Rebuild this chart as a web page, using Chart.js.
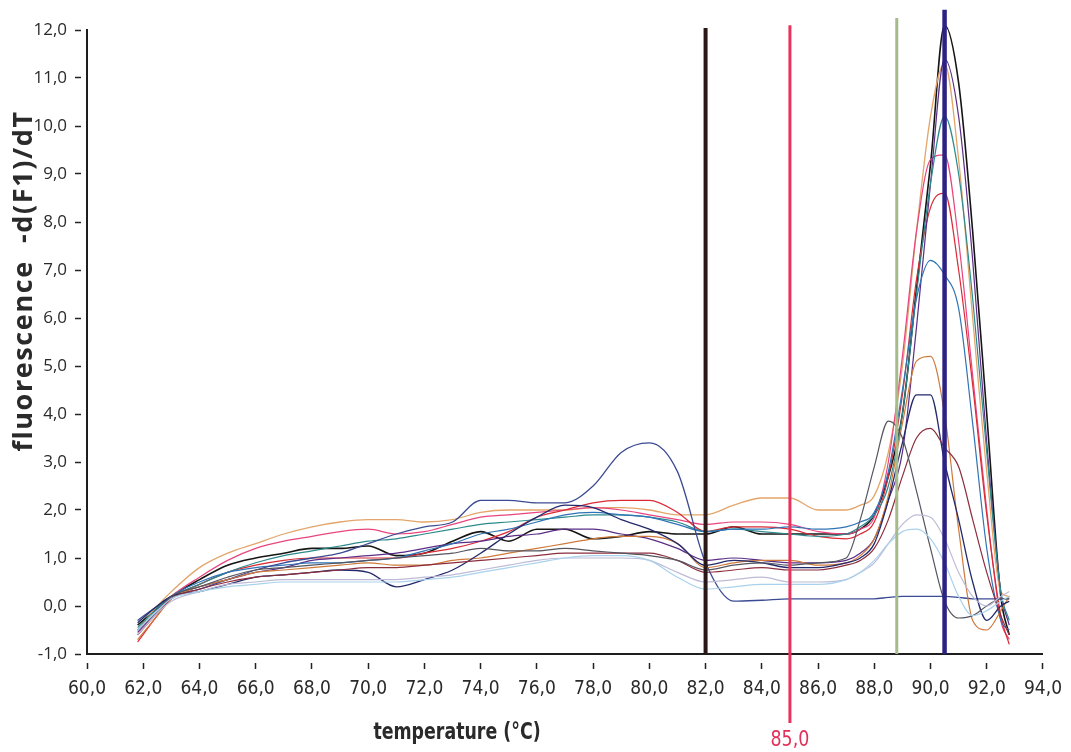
<!DOCTYPE html>
<html>
<head>
<meta charset="utf-8">
<title>Melt curve</title>
<script src="https://cdn.jsdelivr.net/npm/chart.js@4.4.1/dist/chart.umd.min.js"></script>
<style>
  html, body { margin: 0; padding: 0; background: #fff; }
  #wrap { position: relative; width: 1071px; height: 752px; }
</style>
</head>
<body>
<div id="wrap"><canvas id="chart"></canvas></div>
<script>
// temperature grid (°C)
const temps = [61.8, 62.5, 63, 64, 65, 66, 67, 68, 69, 70, 71, 72, 73, 74, 75, 76, 77, 78, 79, 80,
               81, 82, 83, 84, 85, 86, 87, 87.5, 88, 88.5, 89, 89.5, 90, 90.5, 91, 91.5, 92, 92.5, 92.8];

// -d(F1)/dT per sample
const sBlack    = [-0.4, -0.05, 0.2, 0.55, 0.85, 1.0, 1.1, 1.2, 1.2, 1.25, 1.05, 1.1, 1.35, 1.55, 1.35, 1.6, 1.6, 1.4, 1.45, 1.55, 1.5, 1.5, 1.65, 1.5, 1.5, 1.5, 1.5, 1.6, 1.9, 2.7, 4.0, 6.6, 9.2, 12.1, 10.9, 7.8, 4.0, 0.2, -0.6];
const sTan      = [-0.5, 0.0, 0.3, 0.8, 1.1, 1.3, 1.5, 1.65, 1.75, 1.8, 1.8, 1.75, 1.8, 1.95, 2.0, 2.0, 2.0, 2.05, 2.05, 2.0, 1.9, 1.9, 2.1, 2.25, 2.25, 2.0, 2.0, 2.1, 2.3, 3.2, 5.0, 7.8, 10.2, 11.3, 9.3, 6.0, 2.8, 0.3, 0.2];
const sPink     = [-0.6, -0.1, 0.2, 0.6, 0.95, 1.2, 1.35, 1.45, 1.55, 1.6, 1.5, 1.55, 1.7, 1.85, 1.9, 1.95, 2.0, 2.05, 2.0, 1.9, 1.8, 1.7, 1.75, 1.75, 1.7, 1.55, 1.5, 1.6, 1.85, 3.0, 5.2, 7.8, 9.3, 9.4, 7.6, 4.8, 2.0, -0.3, -0.7];
const sRed      = [-0.75, -0.2, 0.15, 0.45, 0.7, 0.85, 0.95, 1.0, 1.0, 1.0, 1.0, 1.1, 1.2, 1.35, 1.55, 1.85, 2.0, 2.15, 2.2, 2.2, 1.95, 1.55, 1.65, 1.65, 1.6, 1.45, 1.4, 1.5, 1.75, 2.7, 4.4, 6.8, 8.3, 8.6, 7.0, 4.6, 1.9, -0.2, -0.8];
const sSteel    = [-0.5, -0.1, 0.2, 0.5, 0.7, 0.8, 0.85, 0.9, 0.9, 0.95, 1.0, 1.15, 1.3, 1.5, 1.6, 1.75, 1.9, 1.95, 1.9, 1.85, 1.7, 1.55, 1.6, 1.6, 1.65, 1.6, 1.65, 1.75, 1.95, 2.8, 4.5, 6.4, 7.2, 6.9, 6.2, 3.8, 1.2, -0.3, -0.5];
const sOrange   = [-0.7, -0.2, 0.15, 0.4, 0.55, 0.7, 0.75, 0.8, 0.85, 0.9, 0.85, 0.85, 0.95, 1.0, 1.1, 1.2, 1.3, 1.4, 1.45, 1.45, 1.3, 0.8, 0.9, 0.95, 0.95, 0.85, 0.9, 1.05, 1.4, 2.3, 3.8, 5.1, 5.2, 4.0, 1.6, -0.3, -0.5, -0.1, 0.2];
const sNavy     = [-0.35, 0.0, 0.2, 0.3, 0.45, 0.6, 0.65, 0.7, 0.75, 0.7, 0.4, 0.55, 0.75, 1.1, 1.5, 1.85, 2.1, 2.05, 1.8, 1.6, 1.3, 0.85, 0.95, 0.9, 0.8, 0.8, 0.9, 1.0, 1.3, 2.2, 3.4, 4.4, 4.4, 3.0, 1.8, 0.5, -0.3, 0.0, 0.1];
const sGray     = [-0.5, -0.1, 0.2, 0.4, 0.6, 0.75, 0.8, 0.85, 0.9, 0.95, 1.0, 1.05, 1.1, 1.2, 1.15, 1.15, 1.2, 1.15, 1.1, 1.05, 0.95, 0.75, 0.85, 0.9, 0.85, 0.9, 1.0, 1.8, 2.9, 3.85, 3.5, 2.4, 1.2, 0.1, -0.25, -0.2, 0.0, 0.15, 0.15];
const sMaroon   = [-0.6, -0.15, 0.15, 0.35, 0.5, 0.6, 0.65, 0.7, 0.75, 0.8, 0.8, 0.85, 0.9, 0.95, 1.0, 1.05, 1.1, 1.1, 1.1, 1.1, 0.95, 0.7, 0.75, 0.8, 0.75, 0.75, 0.85, 0.95, 1.2, 1.8, 2.7, 3.5, 3.7, 3.3, 2.9, 1.8, 0.7, -0.2, -0.6];
const sLavender = [-0.6, -0.15, 0.1, 0.3, 0.45, 0.5, 0.55, 0.55, 0.55, 0.55, 0.55, 0.6, 0.65, 0.75, 0.85, 0.95, 1.0, 1.0, 1.0, 0.95, 0.7, 0.5, 0.55, 0.6, 0.5, 0.5, 0.55, 0.7, 0.9, 1.3, 1.7, 1.9, 1.85, 1.4, 0.7, 0.2, 0.0, 0.2, 0.3];
const sLightBlue= [-0.5, -0.1, 0.15, 0.3, 0.4, 0.45, 0.5, 0.5, 0.5, 0.5, 0.5, 0.55, 0.6, 0.7, 0.8, 0.9, 1.0, 1.05, 1.05, 0.95, 0.6, 0.35, 0.4, 0.45, 0.45, 0.45, 0.55, 0.7, 0.95, 1.3, 1.55, 1.6, 1.4, 0.9, 0.2, -0.2, -0.1, 0.1, 0.2];
const sSlate    = [-0.3, 0.0, 0.2, 0.35, 0.55, 0.75, 0.9, 1.0, 1.1, 1.3, 1.5, 1.65, 1.75, 2.2, 2.2, 2.15, 2.15, 2.5, 3.2, 3.4, 2.8, 0.9, 0.1, 0.12, 0.15, 0.15, 0.15, 0.15, 0.15, 0.18, 0.2, 0.2, 0.2, 0.2, 0.18, 0.15, 0.15, 0.15, 0.15];
const sTeal     = [-0.45, -0.05, 0.2, 0.45, 0.7, 0.9, 1.05, 1.15, 1.25, 1.35, 1.4, 1.5, 1.6, 1.7, 1.75, 1.8, 1.85, 1.9, 1.9, 1.85, 1.75, 1.55, 1.6, 1.55, 1.5, 1.45, 1.5, 1.65, 1.9, 2.5, 4.0, 6.5, 8.8, 10.2, 9.0, 6.4, 3.2, 0.3, -0.3];
const sPurple   = [-0.55, -0.1, 0.2, 0.4, 0.55, 0.7, 0.8, 0.95, 1.0, 1.05, 1.1, 1.2, 1.3, 1.35, 1.45, 1.5, 1.6, 1.6, 1.5, 1.4, 1.2, 0.95, 1.0, 0.95, 0.9, 0.9, 0.95, 1.1, 1.4, 2.2, 3.2, 5.8, 8.8, 11.4, 10.2, 7.2, 3.4, 0.3, -0.4];

// vertical marker lines (temperature, top and bottom in y units)
const markerTemps   = [82.0, 85.0, 88.8, 90.5];
const markerTops    = [12.04, 12.1, 12.25, 12.42];
const markerBottoms = [-1, -2.44, -1, -1];

const yRange = [-1, 12];
const xRange = [60, 94];

const fmt = v => v.toFixed(1).replace('.', ',');
const condensed = '"Liberation Sans Narrow", "DejaVu Sans Condensed", sans-serif';

const curves = [
  { d: sLightBlue, c: '#a9d2ec', w: 1.2 },
  { d: sLavender,  c: '#bdbbd6', w: 1.2 },
  { d: sGray,      c: '#55555f', w: 1.2 },
  { d: sMaroon,    c: '#8c2d3c', w: 1.2 },
  { d: sNavy,      c: '#232a6b', w: 1.3 },
  { d: sOrange,    c: '#cf7a3a', w: 1.2 },
  { d: sSlate,     c: '#3b4b93', w: 1.3 },
  { d: sSteel,     c: '#2f74b5', w: 1.2 },
  { d: sTeal,      c: '#2c8a8c', w: 1.2 },
  { d: sPurple,    c: '#5b2d86', w: 1.2 },
  { d: sRed,       c: '#d92a35', w: 1.2 },
  { d: sPink,      c: '#e8457e', w: 1.2 },
  { d: sTan,       c: '#e3a56a', w: 1.3 },
  { d: sBlack,     c: '#151515', w: 1.6 }
];
const markerStyle = [
  { c: '#2a1717', w: 4 },
  { c: '#e8335c', w: 3 },
  { c: '#a6bb8a', w: 3 },
  { c: '#2c2283', w: 4.5 }
];

const datasets = [];
markerTemps.forEach((t, i) => {
  datasets.push({
    data: [{ x: t, y: markerBottoms[i] }, { x: t, y: markerTops[i] }],
    borderColor: markerStyle[i].c,
    borderWidth: markerStyle[i].w,
    pointRadius: 0,
    clip: false,
    order: 0
  });
});
curves.forEach(s => {
  datasets.push({
    data: temps.map((t, i) => ({ x: t, y: s.d[i] })),
    borderColor: s.c,
    borderWidth: s.w,
    pointRadius: 0,
    cubicInterpolationMode: 'monotone',
    clip: false,
    order: 1
  });
});

// axis titles and the 85,0 marker label
const textPlugin = {
  id: 'texts',
  afterDraw(chart) {
    const ctx = chart.ctx;
    const xs = chart.scales.x;
    ctx.save();
    ctx.fillStyle = '#2a2a2a';
    ctx.textAlign = 'center';
    ctx.textBaseline = 'middle';

    ctx.save();
    ctx.translate(457, 733);
    ctx.scale(0.84, 1);
    ctx.font = 'bold 23px ' + condensed;
    ctx.fillText('temperature (°C)', 0, 0);
    ctx.restore();

    ctx.save();
    ctx.translate(24, 281);
    ctx.rotate(-Math.PI / 2);
    ctx.font = 'bold 27px "Open Sans", "Liberation Sans", sans-serif';
    ctx.letterSpacing = '1.6px';
    ctx.fillText('fluorescence  -d(F1)/dT', 0, 0);
    ctx.restore();

    ctx.save();
    ctx.translate(xs.getPixelForValue(markerTemps[1]), 740);
    ctx.scale(0.88, 1);
    ctx.fillStyle = '#e0305a';
    ctx.font = '22px ' + condensed;
    ctx.fillText(fmt(markerTemps[1]), 0, 0);
    ctx.restore();
    ctx.restore();
  }
};

new Chart(document.getElementById('chart'), {
  type: 'line',
  data: { datasets },
  options: {
    responsive: true,
    maintainAspectRatio: false,
    animation: false,
    events: [],
    layout: { padding: { top: 30, right: 24, left: 0, bottom: 0 } },
    plugins: { legend: { display: false }, tooltip: { enabled: false } },
    scales: {
      x: {
        type: 'linear',
        min: xRange[0], max: xRange[1],
        afterFit: s => { s.height = 98; },
        ticks: {
          stepSize: 2,
          callback: v => fmt(v),
          color: '#2a2a2a',
          padding: 9,
          maxRotation: 0,
          autoSkip: false,
          font: { family: condensed, size: 19 }
        },
        grid: {
          drawOnChartArea: false,
          drawTicks: true,
          tickLength: 15,
          tickColor: '#222',
          tickWidth: 1.5,
          tickBorderDash: [0, 8, 7, 100]
        },
        border: { color: '#1e1e1e', width: 2 }
      },
      y: {
        type: 'linear',
        min: yRange[0], max: yRange[1],
        afterFit: s => { s.width = 87; },
        ticks: {
          stepSize: 1,
          callback: v => fmt(v),
          color: '#2a2a2a',
          padding: 8,
          autoSkip: false,
          font: { family: '"Open Sans", "Liberation Sans", sans-serif', size: 17 }
        },
        grid: {
          drawOnChartArea: false,
          drawTicks: true,
          tickLength: 12,
          tickColor: '#222',
          tickWidth: 1.5,
          tickBorderDash: [6, 50]
        },
        border: { color: '#1e1e1e', width: 2 }
      }
    }
  },
  plugins: [textPlugin]
});
</script>
</body>
</html>
